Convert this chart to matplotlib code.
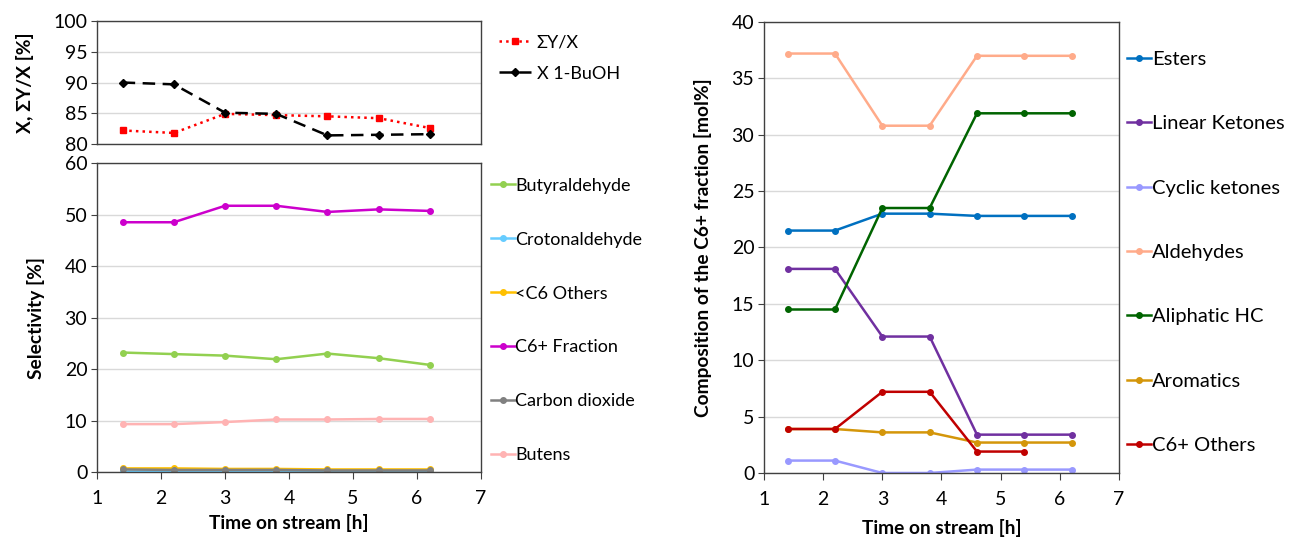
import matplotlib
matplotlib.use("Agg")
import matplotlib.pyplot as plt

plt.rcParams['font.family'] = ['Lato', 'DejaVu Sans']

# time on stream [h]
time_h = [1.4, 2.2, 3.0, 3.8, 4.6, 5.4, 6.2]

# conversion / carbon balance
sum_y_x = [82.2, 81.8, 84.9, 84.7, 84.5, 84.2, 82.6]
x_buoh = [90.0, 89.7, 85.1, 84.9, 81.4, 81.5, 81.6]

# selectivity [%]
butyraldehyde = [23.2, 22.9, 22.6, 21.9, 23.0, 22.1, 20.8]
crotonaldehyde = [0.1, 0.1, 0.1, 0.1, 0.1, 0.1, 0.1]
c6_minus_others = [0.7, 0.7, 0.6, 0.6, 0.5, 0.5, 0.5]
c6_fraction = [48.5, 48.5, 51.7, 51.7, 50.5, 51.0, 50.7]
carbon_dioxide = [0.5, 0.4, 0.4, 0.4, 0.3, 0.3, 0.3]
butens = [9.3, 9.3, 9.7, 10.2, 10.2, 10.3, 10.3]

# composition of the C6+ fraction [mol%]
esters = [21.5, 21.5, 23.0, 23.0, 22.8, 22.8, 22.8]
linear_ketones = [18.1, 18.1, 12.1, 12.1, 3.4, 3.4, 3.4]
cyclic_ketones = [1.1, 1.1, 0.0, 0.0, 0.3, 0.3, 0.3]
aldehydes = [37.2, 37.2, 30.8, 30.8, 37.0, 37.0, 37.0]
aliphatic_hc = [14.5, 14.5, 23.5, 23.5, 31.9, 31.9, 31.9]
aromatics = [3.9, 3.9, 3.6, 3.6, 2.7, 2.7, 2.7]
c6_plus_others = [3.9, 3.9, 7.2, 7.2, 1.9, 1.9]

FS = 13          # legend text
FS_R = 14.5      # right legend text
TICK_FS = 14     # tick labels
LAB_FS = 13.8    # axis titles
GRID = '#d9d9d9'


def style_axes(ax, ylim, yticks, show_x=True):
    ax.set_xlim(1, 7)
    ax.set_ylim(*ylim)
    ax.set_yticks(yticks)
    ax.set_xticks(range(1, 8))
    ax.yaxis.grid(True, color=GRID, lw=1)
    ax.set_axisbelow(True)
    for s in ax.spines.values():
        s.set_color('#404040')
        s.set_linewidth(1.0)
    ax.tick_params(axis='y', labelsize=TICK_FS, length=4, color='#404040', pad=3)
    ax.tick_params(axis='x', labelsize=TICK_FS, length=5, color='#404040', pad=8)
    if not show_x:
        ax.tick_params(axis='x', length=0, labelbottom=False)


fig = plt.figure(figsize=(12.89, 5.40), dpi=100)

# top left
ax1 = fig.add_axes([0.0753, 0.7333, 0.2979, 0.2278])
ax1.plot(time_h, sum_y_x, color='#ff0000', ls=':', lw=1.8, marker='s', ms=5, label='ΣY/X')
ax1.plot(time_h, x_buoh, color='black', ls=(0, (5, 3)), lw=1.8, marker='D', ms=4.5, label='X 1-BuOH')
style_axes(ax1, (80, 100), range(80, 101, 5), show_x=False)
ax1.set_ylabel('X, ΣY/X [%]', fontsize=LAB_FS, fontweight='bold', labelpad=14)
fig.legend(handles=ax1.get_lines(), loc='center left', bbox_to_anchor=(0.387, 0.8926),
           frameon=False, fontsize=FS, labelspacing=0.85, handlelength=1.8,
           handletextpad=0.3, borderpad=0, borderaxespad=0)

# bottom left
ax2 = fig.add_axes([0.0753, 0.1259, 0.2979, 0.5722])
sel_series = [
    (butyraldehyde, '#92d050', 'Butyraldehyde'),
    (crotonaldehyde, '#66ccff', 'Crotonaldehyde'),
    (c6_minus_others, '#ffc000', '<C6 Others'),
    (c6_fraction, '#cc00cc', 'C6+ Fraction'),
    (carbon_dioxide, '#808080', 'Carbon dioxide'),
    (butens, '#ffb3b3', 'Butens'),
]
for vals, col, lab in sel_series:
    ax2.plot(time_h, vals, color=col, lw=1.8, marker='o', ms=4, label=lab)
style_axes(ax2, (0, 60), range(0, 61, 10))
ax2.set_ylabel('Selectivity [%]', fontsize=LAB_FS, fontweight='bold', labelpad=14)
ax2.set_xlabel('Time on stream [h]', fontsize=LAB_FS, fontweight='bold', labelpad=5)
fig.legend(handles=ax2.get_lines(), loc='center left', bbox_to_anchor=(0.381, 0.4065),
           frameon=False, fontsize=FS, labelspacing=2.1, handlelength=1.3,
           handletextpad=0.05, borderpad=0, borderaxespad=0)

# right
ax3 = fig.add_axes([0.5927, 0.1241, 0.2754, 0.8352])
comp_series = [
    (esters, '#0070c0', 'Esters'),
    (linear_ketones, '#7030a0', 'Linear Ketones'),
    (cyclic_ketones, '#9999ff', 'Cyclic ketones'),
    (aldehydes, '#ffab8a', 'Aldehydes'),
    (aliphatic_hc, '#006400', 'Aliphatic HC'),
    (aromatics, '#d4960a', 'Aromatics'),
    (c6_plus_others, '#c00000', 'C6+ Others'),
]
for vals, col, lab in comp_series:
    ax3.plot(time_h[:len(vals)], vals, color=col, lw=1.8, marker='o', ms=4, label=lab)
style_axes(ax3, (0, 40), range(0, 41, 5))
ax3.set_ylabel('Composition of the C6+ fraction [mol%]', fontsize=LAB_FS, fontweight='bold', labelpad=14)
ax3.set_xlabel('Time on stream [h]', fontsize=LAB_FS, fontweight='bold', labelpad=8)
fig.legend(handles=ax3.get_lines(), loc='center left', bbox_to_anchor=(0.874, 0.5324),
           frameon=False, fontsize=FS_R, labelspacing=2.35, handlelength=1.2,
           handletextpad=0.05, borderpad=0, borderaxespad=0)

fig.savefig('out.png', dpi=100)
